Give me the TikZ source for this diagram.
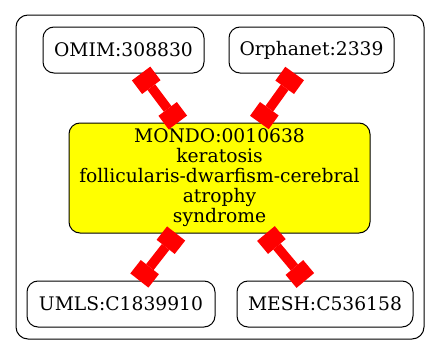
\documentclass[tikz,border=0pt]{standalone}
\usepackage{fontspec}
\setmainfont{DejaVu Serif}
\usetikzlibrary{arrows.meta}
\definecolor{termyellow}{RGB}{255,255,0}
\definecolor{linkred}{RGB}{255,0,0}
\begin{document}
\begin{tikzpicture}[x=1pt,y=-1pt,
  term/.style={draw=black,line width=1pt,rounded corners=11pt,fill=white,
    inner sep=0pt,align=center,font=\fontsize{18.7}{20}\selectfont},
  teelink/.style={draw=linkred,line width=9.5pt,
    {Rectangle[length=17pt,width=23pt,line width=0pt]}-{Rectangle[length=17pt,width=23pt,line width=0pt]}}]
  \useasboundingbox (0,0) rectangle (440,356);
  % enclosing cluster
  \draw[line width=1pt,rounded corners=12pt] (16,15) rectangle (424,339);
  % terms
  \node[term,minimum width=161pt,minimum height=46pt] (omim) at (123.5,50) {OMIM:308830};
  \node[term,minimum width=165pt,minimum height=46pt] (orph) at (311.5,50) {Orphanet:2339};
  \node[term,fill=termyellow,minimum width=301pt,minimum height=110pt] (mondo) at (219.5,178)
    {MONDO:0010638\\keratosis\\follicularis-dwarfism-cerebral\\atrophy\\syndrome};
  \node[term,minimum width=188pt,minimum height=46pt] (umls) at (121,304) {UMLS:C1839910};
  \node[term,minimum width=176pt,minimum height=46pt] (mesh) at (325,304) {MESH:C536158};
  % cross-references
  \draw[teelink] (omim) -- (mondo);
  \draw[teelink] (orph) -- (mondo);
  \draw[teelink] (mondo) -- (umls);
  \draw[teelink] (mondo) -- (mesh);
\end{tikzpicture}
\end{document}
